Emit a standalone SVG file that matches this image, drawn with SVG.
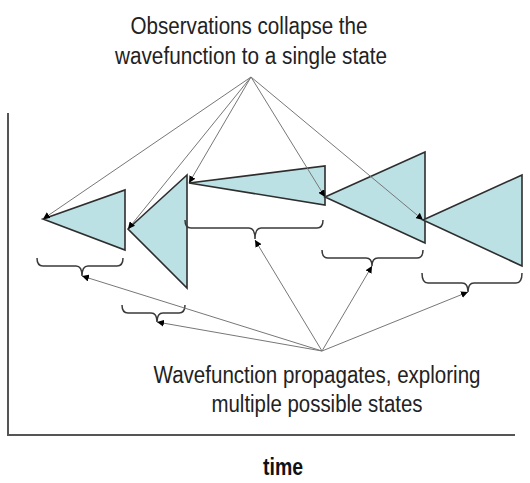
<svg xmlns="http://www.w3.org/2000/svg" width="530" height="483" viewBox="0 0 530 483">
<style>
.lbl{font-family:"Liberation Sans",Arial,sans-serif;font-size:23px;fill:#222;text-anchor:middle}
.tm{font-family:"Liberation Sans",Arial,sans-serif;font-size:23px;font-weight:bold;fill:#111;text-anchor:middle}
.tri{fill:#BCE1E4;stroke:#2e2e2e;stroke-width:1.6;stroke-linejoin:miter}
.con{stroke:#777;stroke-width:1;fill:none}
.brace{stroke:#3a3a3a;stroke-width:1.5;fill:none}
.axis{stroke:#555;stroke-width:2;fill:none}
</style>
<defs>
<marker id="ah" viewBox="0 0 10 10" refX="10" refY="5" markerWidth="7" markerHeight="7" markerUnits="userSpaceOnUse" orient="auto">
<path d="M0,0 L10,5 L0,10 z" fill="#000"/>
</marker>
</defs>
<g id="axes">
<path class="axis" d="M8,113 L8,435 L515,435"/>
</g>
<g id="tri1"><polygon class="tri" points="43,219 125,190 125,250"/></g>
<g id="tri2"><polygon class="tri" points="128,229 187,175 187,288"/></g>
<g id="tri3"><polygon class="tri" points="189,183 325,166 325,205"/></g>
<g id="tri4"><polygon class="tri" points="325,197 425,152 425,243"/></g>
<g id="tri5"><polygon class="tri" points="423,220 522,175 522,266"/></g>
<g id="braces">
<path id="brace1" class="brace" d="M37,258 Q37,266 43,266 L76,266 Q82,266 82,276 Q82,266 88,266 L117,266 Q123,266 123,258"/>
<path id="brace2" class="brace" d="M122,305 Q122,313 128,313 L151,313 Q157,313 157,322 Q157,313 163,313 L179,313 Q185,313 185,305"/>
<path id="brace3" class="brace" d="M185,220 Q185,228 191,228 L249,228 Q255,228 255,239 Q255,228 261,228 L317,228 Q323,228 323,220"/>
<path id="brace4" class="brace" d="M322,250 Q322,258 328,258 L366,258 Q372,258 372,266 Q372,258 378,258 L417,258 Q423,258 423,250"/>
<path id="brace5" class="brace" d="M422,273 Q422,283 428,283 L462,283 Q468,283 468,292 Q468,283 474,283 L516,283 Q522,283 522,273"/>
</g>
<g id="connectors">
<line class="con" x1="251" y1="77" x2="43" y2="219" marker-end="url(#ah)"/>
<line class="con" x1="251" y1="77" x2="128" y2="229" marker-end="url(#ah)"/>
<line class="con" x1="251" y1="77" x2="189" y2="183" marker-end="url(#ah)"/>
<line class="con" x1="251" y1="77" x2="325" y2="197" marker-end="url(#ah)"/>
<line class="con" x1="251" y1="77" x2="423" y2="220" marker-end="url(#ah)"/>
<line class="con" x1="322" y1="351" x2="82" y2="276" marker-end="url(#ah)"/>
<line class="con" x1="322" y1="351" x2="157" y2="322" marker-end="url(#ah)"/>
<line class="con" x1="322" y1="351" x2="255" y2="240" marker-end="url(#ah)"/>
<line class="con" x1="322" y1="351" x2="372" y2="266" marker-end="url(#ah)"/>
<line class="con" x1="322" y1="351" x2="468" y2="292" marker-end="url(#ah)"/>
</g>
<g id="label-top">
<text class="lbl" x="249" y="34" textLength="237" lengthAdjust="spacingAndGlyphs">Observations collapse the</text>
<text class="lbl" x="251" y="64" textLength="272" lengthAdjust="spacingAndGlyphs">wavefunction to a single state</text>
</g>
<g id="label-bottom">
<text class="lbl" x="317" y="383" textLength="327" lengthAdjust="spacingAndGlyphs">Wavefunction propagates, exploring</text>
<text class="lbl" x="317" y="412" textLength="211" lengthAdjust="spacingAndGlyphs">multiple possible states</text>
</g>
<g id="label-time">
<text class="tm" x="283" y="475" textLength="40" lengthAdjust="spacingAndGlyphs">time</text>
</g>
</svg>
